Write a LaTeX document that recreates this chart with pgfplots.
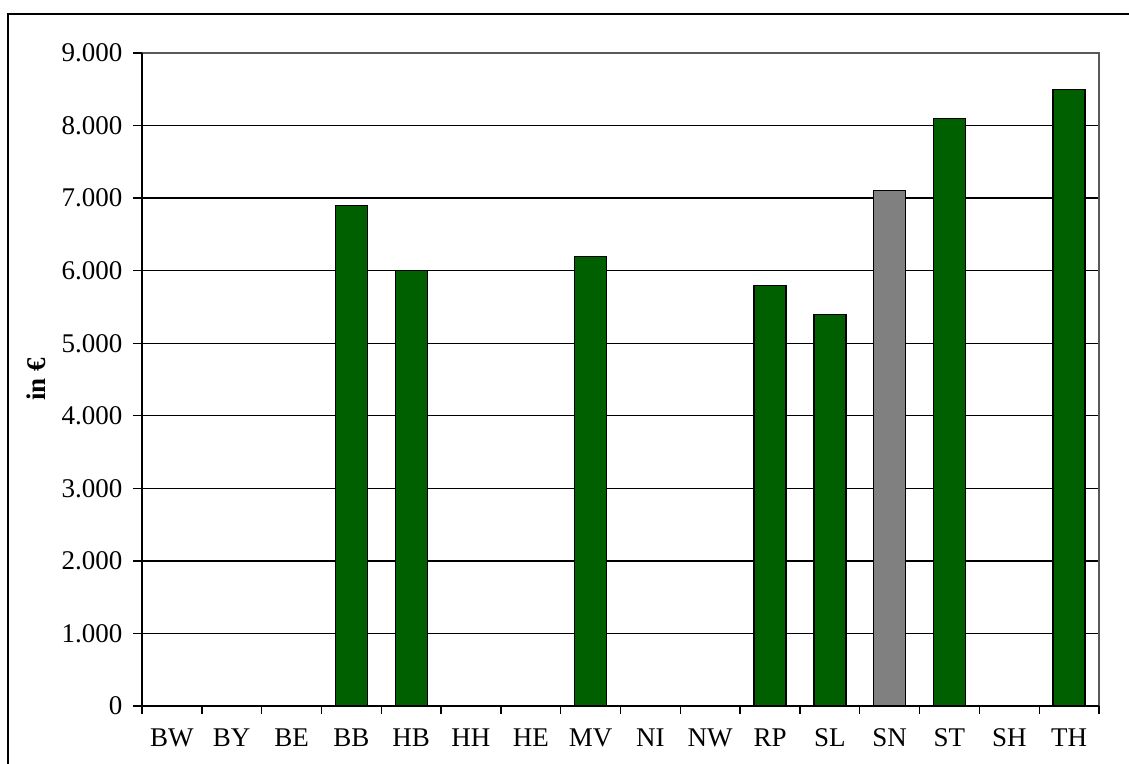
\documentclass[border=0pt]{standalone}
\usepackage{fontspec}
\setmainfont{Liberation Serif}
\usepackage{pgfplots}
\pgfplotsset{compat=1.18}
\definecolor{bargreen}{RGB}{0,96,0}
\definecolor{bargray}{RGB}{128,128,128}
\begin{document}
\begin{tikzpicture}[x=1pt,y=1pt,font=\fontsize{27}{32}\selectfont]
\useasboundingbox (0,0) rectangle (1129,763);
\draw[line width=1.5pt] (8,-10) -- (8,749) -- (1140,749);
\begin{axis}[
  at={(142pt,57pt)}, anchor=south west, scale only axis,
  width=957pt, height=653pt,
  xmin=-0.5, xmax=15.5, ymin=0, ymax=9000,
  xtick={-0.5,0.5,...,15.5},
  xticklabels={BW,BY,BE,BB,HB,HH,HE,MV,NI,NW,RP,SL,SN,ST,SH,TH,{}},
  ytick={0,1000,...,9000},
  xtick pos=bottom, ytick pos=left,
  tick align=outside, major tick length=8pt,
  tick style={black, line width=1.4pt},
  ymajorgrids, grid style={black, line width=1.3pt},
  axis line style={draw=none},
  /pgf/number format/.cd, 1000 sep={.}, assume math mode=true,
  /pgfplots/.cd,
  yticklabel style={font=\fontsize{27}{32}\selectfont, xshift=-8pt},
  xticklabel style={font=\fontsize{27}{32}\selectfont, xshift=29.9pt, yshift=-11pt},
  ybar, bar width=32pt,
  clip=false,
]
\addplot[fill=bargreen, draw=black, line width=1.3pt, bar shift=0pt]
  coordinates {(3,6900) (4,6000) (7,6200) (10,5800) (11,5400) (13,8100) (15,8500)};
\addplot[fill=bargray, draw=black, line width=1.3pt, bar shift=0pt]
  coordinates {(12,7100)};
\draw[gray!70!black, line width=1.3pt] (rel axis cs:0,1) -- (rel axis cs:1,1) -- (rel axis cs:1,0);
\draw[black, line width=1.5pt] (rel axis cs:0,1) -- (rel axis cs:0,0) -- (rel axis cs:1,0);
\pgfplotsinvokeforeach{0,1000,...,9000}{
  \draw[black, line width=1.4pt] (axis cs:-0.5,#1) -- ++(-9pt,0pt);
}
\end{axis}
\node[rotate=90, font=\fontsize{27}{32}\selectfont\bfseries] at (36,383.5) {in €};
\end{tikzpicture}
\end{document}
